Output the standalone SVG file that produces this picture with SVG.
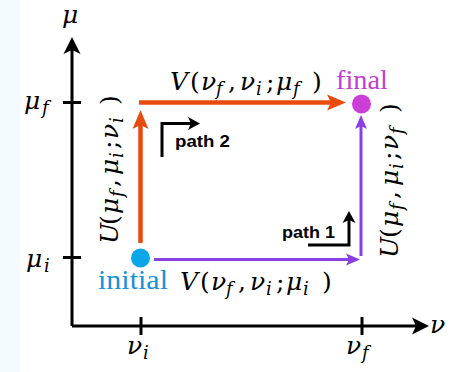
<svg xmlns="http://www.w3.org/2000/svg" width="453" height="372" viewBox="0 0 453 372">
<style>
.m{font-family:"DejaVu Serif","Liberation Serif",serif;font-style:italic;font-size:25px;fill:#000}
.r{font-style:normal}
.s{font-size:18px}
.ax{stroke:#000;stroke-width:3;fill:none}
.orange{stroke:#e84b0e;stroke-width:4.5;fill:none}
.purple{stroke:#8a3fe2;stroke-width:3;fill:none}
.pth{stroke:#000;stroke-width:3;fill:none}
.lbl{font-family:"Liberation Sans","Arial",sans-serif;font-weight:bold;font-size:16px;fill:#000}
.word{font-family:"Liberation Serif","DejaVu Serif",serif;font-size:27px}
</style>
<defs>
<marker id="ahK" markerUnits="userSpaceOnUse" viewBox="0 -10 20 20" markerWidth="20" markerHeight="20" refX="6" refY="0" orient="auto">
<path d="M0,-8.5 L17,0 L0,8.5 L4,0 Z" fill="#000"/>
</marker>
<marker id="ahO" markerUnits="userSpaceOnUse" viewBox="0 -10 22 20" markerWidth="22" markerHeight="20" refX="7" refY="0" orient="auto">
<path d="M0,-8 L19,0 L0,8 L4,0 Z" fill="#e84b0e"/>
</marker>
<marker id="ahP" markerUnits="userSpaceOnUse" viewBox="0 -8 16 16" markerWidth="16" markerHeight="16" refX="5" refY="0" orient="auto">
<path d="M0,-6 L14,0 L0,6 L3,0 Z" fill="#8a3fe2"/>
</marker>
<marker id="ahS" markerUnits="userSpaceOnUse" viewBox="0 -8 14 16" markerWidth="14" markerHeight="16" refX="4" refY="0" orient="auto">
<path d="M0,-6.5 L12,0 L0,6.5 L3,0 Z" fill="#000"/>
</marker>
</defs>
<rect x="0" y="0" width="453" height="372" fill="#ffffff"/>
<rect x="0" y="0" width="20" height="372" fill="#f4fbfe"/>

<g id="axes">
<path class="ax" d="M72,326 V48" marker-end="url(#ahK)"/>
<path class="ax" d="M72,326 H418" marker-end="url(#ahK)"/>
<path class="ax" d="M63,102.5 H81 M63,257.5 H81 M141,317 V335 M362,317 V335"/>
<text class="m" x="62" y="23">μ</text>
<text class="m" x="430" y="333">ν</text>
<text class="m" y="109"><tspan x="24">μ</tspan><tspan class="s" x="42" y="114">f</tspan></text>
<text class="m" y="267"><tspan x="26">μ</tspan><tspan class="s" x="44" y="272">i</tspan></text>
<text class="m" y="354"><tspan x="127">ν</tspan><tspan class="s" x="143" y="359">i</tspan></text>
<text class="m" y="354"><tspan x="346">ν</tspan><tspan class="s" x="362" y="359">f</tspan></text>
</g>

<g id="connectors">
<path id="path2-up" class="orange" d="M140.5,243 V122" marker-end="url(#ahO)"/>
<path id="path2-right" class="orange" d="M139,102.5 H334" marker-end="url(#ahO)"/>
<path id="path1-right" class="purple" d="M154,259.5 H351" marker-end="url(#ahP)"/>
<path id="path1-up" class="purple" d="M361,256 V124" marker-end="url(#ahP)"/>
</g>

<g id="labels">
<text class="m" y="90"><tspan x="170">V</tspan><tspan class="r" x="190">(</tspan><tspan x="201">ν</tspan><tspan class="s" x="216" y="95">f</tspan><tspan class="r" x="228" y="90">,</tspan><tspan x="240">ν</tspan><tspan class="s" x="256" y="95">i</tspan><tspan class="r" x="266" y="90">;</tspan><tspan x="276">μ</tspan><tspan class="s" x="293" y="95">f</tspan><tspan class="r" x="312" y="90">)</tspan></text>
<text class="m" y="290"><tspan x="180">V</tspan><tspan class="r" x="200">(</tspan><tspan x="211">ν</tspan><tspan class="s" x="226" y="295">f</tspan><tspan class="r" x="238" y="290">,</tspan><tspan x="250">ν</tspan><tspan class="s" x="266" y="295">i</tspan><tspan class="r" x="276" y="290">;</tspan><tspan x="286">μ</tspan><tspan class="s" x="303" y="295">i</tspan><tspan class="r" x="322" y="290">)</tspan></text>
<text class="m" transform="translate(118,244) rotate(-90)" y="0"><tspan x="0">U</tspan><tspan class="r" x="19">(</tspan><tspan x="30">μ</tspan><tspan class="s" x="47" y="5">f</tspan><tspan class="r" x="57" y="0">,</tspan><tspan x="69">μ</tspan><tspan class="s" x="86" y="5">i</tspan><tspan class="r" x="95" y="0">;</tspan><tspan x="105">ν</tspan><tspan class="s" x="121" y="5">i</tspan><tspan class="r" x="139" y="0">)</tspan></text>
<text class="m" transform="translate(398,258) rotate(-90)" y="0"><tspan x="0">U</tspan><tspan class="r" x="20">(</tspan><tspan x="31">μ</tspan><tspan class="s" x="48" y="5">f</tspan><tspan class="r" x="59" y="0">,</tspan><tspan x="72">μ</tspan><tspan class="s" x="89" y="5">i</tspan><tspan class="r" x="98" y="0">;</tspan><tspan x="108">ν</tspan><tspan class="s" x="124" y="5">f</tspan><tspan class="r" x="145" y="0">)</tspan></text>
</g>

<g id="path2-indicator">
<path class="pth" d="M162,157 V123.5 H192" marker-end="url(#ahS)"/>
<text class="lbl" x="175" y="147" textLength="55" lengthAdjust="spacingAndGlyphs">path 2</text>
</g>
<g id="path1-indicator">
<path class="pth" d="M308,245 H349 V219" marker-end="url(#ahS)"/>
<text class="lbl" x="282" y="237.5" textLength="53" lengthAdjust="spacingAndGlyphs">path 1</text>
</g>

<g id="initial">
<circle cx="140.5" cy="258" r="9.5" fill="#0aa6e8"/>
<text class="word" x="98" y="289" fill="#1a8fd6" textLength="70" lengthAdjust="spacingAndGlyphs">initial</text>
</g>
<g id="final">
<circle cx="361.5" cy="104" r="9.5" fill="#cc3ed8"/>
<text class="word" x="336" y="89" fill="#c13fcf" textLength="52" lengthAdjust="spacingAndGlyphs">final</text>
</g>
</svg>
